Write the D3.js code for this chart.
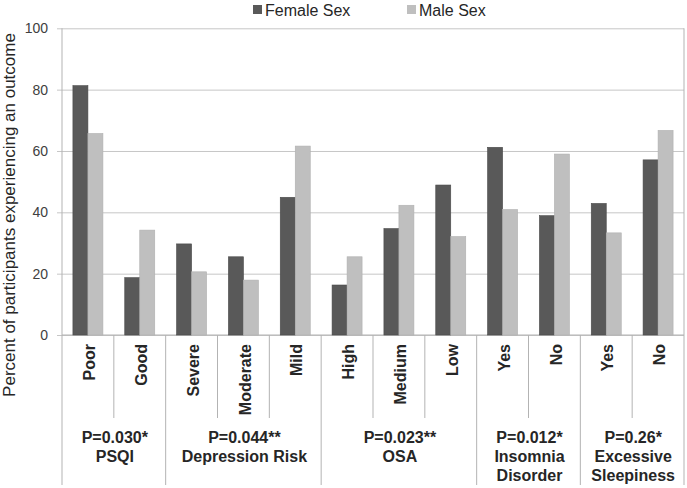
<!DOCTYPE html>
<html>
<head>
<meta charset="utf-8">
<script src="https://cdn.jsdelivr.net/npm/d3@7"></script>
<style>
  body { margin: 0; background: #fff; }
  svg { display: block; font-family: Arial, "Liberation Sans", sans-serif; }
</style>
</head>
<body>
<svg id="chart" width="687" height="488"></svg>
<script>
const categories = ["Poor","Good","Severe","Moderate","Mild","High","Medium","Low","Yes","No","Yes","No"];
const femaleValues = [81.3, 18.7, 29.7, 25.5, 44.9, 16.3, 34.7, 48.9, 61.2, 38.9, 42.9, 57.1];
const maleValues   = [65.7, 34.2, 20.6, 17.9, 61.6, 25.5, 42.3, 32.1, 40.9, 59.0, 33.3, 66.7];
const seriesNames = ["Female Sex", "Male Sex"];
const groupLabels = [["P=0.030*","PSQI"],["P=0.044**","Depression Risk"],["P=0.023**","OSA"],["P=0.012*","Insomnia","Disorder"],["P=0.26*","Excessive","Sleepiness"]];
const groupSizes = [2, 3, 3, 2, 2];
const yTicks = [0, 20, 40, 60, 80, 100];
const yTitle = "Percent of participants experiencing an outcome";

const colors = ["#595959", "#bfbfbf"];
const svg = d3.select("#chart");
const pLeft = 62, pRight = 684, pTop = 28.3, pBottom = 335;

const x = d3.scaleBand().domain(d3.range(categories.length)).range([pLeft, pRight]).padding(0);
const y = d3.scaleLinear().domain([0, 100]).range([pBottom, pTop]);
const inner = d3.scaleBand().domain([0, 1]).range([-15, 15]);

// gridlines & ticks
const yAxis = d3.axisLeft(y).tickValues(yTicks).tickSize(-(pRight - pLeft)).tickPadding(8);
const gy = svg.append("g").attr("transform", `translate(${pLeft},0)`).call(yAxis);
gy.select(".domain").remove();
gy.selectAll(".tick line").attr("stroke", "#c6c6c6").attr("x1", -5);
gy.selectAll(".tick text").attr("font-size", 14).attr("fill", "#404040").attr("x", -14);

// frame: left axis & right edge
svg.append("line").attr("x1", pLeft).attr("x2", pLeft).attr("y1", pTop).attr("y2", 485).attr("stroke", "#b3b3b3");
svg.append("line").attr("x1", pRight).attr("x2", pRight).attr("y1", pTop).attr("y2", 485).attr("stroke", "#b3b3b3");
svg.append("line").attr("x1", pLeft).attr("x2", pRight).attr("y1", pBottom).attr("y2", pBottom).attr("stroke", "#b3b3b3");

// category dividers
const groupStarts = [];
let acc = 0;
groupSizes.forEach(s => { groupStarts.push(acc); acc += s; });
for (let i = 1; i < categories.length; i++) {
  const isGroup = groupStarts.includes(i);
  svg.append("line")
    .attr("x1", x(i)).attr("x2", x(i))
    .attr("y1", pBottom).attr("y2", isGroup ? 485 : 418)
    .attr("stroke", "#b3b3b3");
}

// bars
const series = [femaleValues, maleValues];
series.forEach((vals, si) => {
  svg.append("g").selectAll("rect").data(vals).join("rect")
    .attr("x", (d, i) => x(i) + x.bandwidth() / 2 + inner(si))
    .attr("width", inner.bandwidth())
    .attr("y", d => y(d))
    .attr("height", d => y(0) - y(d))
    .attr("fill", colors[si])
    .attr("stroke", si === 0 ? "#4a4a4a" : "#b0b0b0")
    .attr("stroke-width", 0.6);
});

// category labels
svg.append("g").selectAll("text").data(categories).join("text")
  .attr("transform", (d, i) => `translate(${x(i) + x.bandwidth() / 2 + 1.5},344) rotate(-90)`)
  .attr("text-anchor", "end")
  .attr("dy", "0.35em")
  .attr("font-size", 16).attr("font-weight", "bold").attr("fill", "#262626")
  .text(d => d);

// group labels
groupLabels.forEach((lines, gi) => {
  const s = groupStarts[gi], e = s + groupSizes[gi];
  const cx = (x(s) + x(e - 1) + x.bandwidth()) / 2 + 1;
  const t = svg.append("text").attr("text-anchor", "middle")
    .attr("font-size", 16).attr("font-weight", "bold").attr("fill", "#262626");
  lines.forEach((ln, li) => {
    t.append("tspan").attr("x", cx).attr("y", 443 + li * 19).text(ln);
  });
});

// y title
svg.append("text")
  .attr("transform", "translate(15,215) rotate(-90)")
  .attr("text-anchor", "middle")
  .attr("font-size", 17).attr("fill", "#262626")
  .text(yTitle);

// legend
const legendX = [253, 407];
seriesNames.forEach((name, i) => {
  svg.append("rect").attr("x", legendX[i]).attr("y", 5).attr("width", 9).attr("height", 9).attr("fill", colors[i]);
  svg.append("text").attr("x", legendX[i] + 12).attr("y", 16)
    .attr("font-size", 16).attr("fill", "#262626").text(name);
});
</script>
</body>
</html>
